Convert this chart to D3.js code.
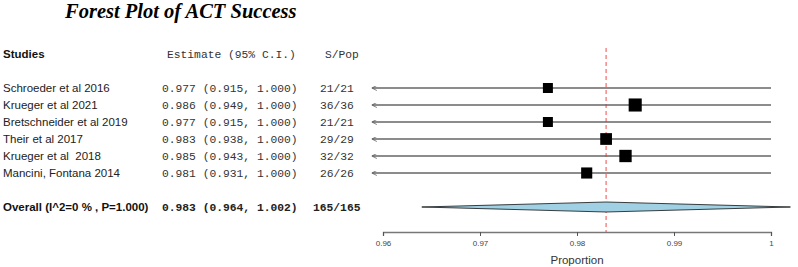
<!DOCTYPE html>
<html><head><meta charset="utf-8">
<script src="https://cdn.jsdelivr.net/npm/d3@7/dist/d3.min.js"></script>
<style>body{margin:0;background:#fff}svg{display:block}text{white-space:pre}</style>
</head><body>
<script>
const studies = ["Schroeder et al 2016","Krueger et al 2021","Bretschneider et al 2019","Their et al 2017","Krueger et al  2018","Mancini, Fontana 2014"];
const estimates = [0.977, 0.986, 0.977, 0.983, 0.985, 0.981];
const lowerCI = [0.915, 0.949, 0.915, 0.938, 0.943, 0.931];
const upperCI = [1.000, 1.000, 1.000, 1.000, 1.000, 1.000];
const successes = [21, 36, 21, 29, 32, 26];
const populations = [21, 36, 21, 29, 32, 26];
const overallLabel = "Overall (I^2=0 % , P=1.000)";
const overallEst = 0.983, overallLow = 0.964, overallHigh = 1.002;
const overallS = 165, overallPop = 165;
const xTicks = [0.96, 0.97, 0.98, 0.99, 1];
const xLimLow = 0.9589;

const W = 798, H = 267;
const svg = d3.select("body").append("svg").attr("width", W).attr("height", H);
const x = d3.scaleLinear().domain([0.96, 1]).range([383, 771]);
const y = d3.scaleLinear().domain([0, 1]).range([88, 105]);
const f3 = d3.format(".3f");
const sans = "'Liberation Sans', Arial, sans-serif";
const mono = "'Liberation Mono', 'Courier New', monospace";

svg.append("text").attr("x", 65).attr("y", 18)
  .attr("font-family", "'Liberation Serif', 'Times New Roman', serif")
  .attr("font-weight", "bold").attr("font-style", "italic").attr("font-size", 20.5)
  .attr("fill", "#000").text("Forest Plot of ACT Success");

// headers
svg.append("text").attr("x", 3).attr("y", 58).attr("font-family", sans).attr("font-weight", "bold")
  .attr("font-size", 11.5).attr("fill", "#111").text("Studies");
svg.append("text").attr("x", 167).attr("y", 58).attr("font-family", mono)
  .attr("font-size", 11.3).attr("fill", "#333").text("Estimate (95% C.I.)");
svg.append("text").attr("x", 325).attr("y", 58).attr("font-family", mono)
  .attr("font-size", 11.3).attr("fill", "#333").text("S/Pop");

const defs = svg.append("defs");
defs.append("marker").attr("id", "arr").attr("viewBox", "0 0 10 10").attr("refX", 1).attr("refY", 5)
  .attr("markerWidth", 9).attr("markerHeight", 5).attr("markerUnits", "userSpaceOnUse").attr("orient", "auto")
  .append("path").attr("d", "M10,0 L0,5 L10,10").attr("fill", "none").attr("stroke", "#555").attr("stroke-width", 1.5);

const rows = studies.map((s, i) => ({s, e: estimates[i], l: lowerCI[i], u: upperCI[i], k: successes[i], n: populations[i], i}));

// reference dashed line
svg.append("line").attr("x1", x(overallEst)).attr("x2", x(overallEst)).attr("y1", 48).attr("y2", 232)
  .attr("stroke", "#f26a6a").attr("stroke-width", 1.2).attr("stroke-dasharray", "4,3");

rows.forEach(d => {
  const yy = y(d.i);
  svg.append("text").attr("x", 3).attr("y", yy + 4).attr("font-family", sans).attr("font-size", 11.5)
    .attr("fill", "#222").attr("xml:space", "preserve").text(d.s);
  svg.append("text").attr("x", 162).attr("y", yy + 4).attr("font-family", mono).attr("font-size", 11.3)
    .attr("fill", "#333").text(`${f3(d.e)} (${f3(d.l)}, ${f3(d.u)})`);
  svg.append("text").attr("x", 320).attr("y", yy + 4).attr("font-family", mono).attr("font-size", 11.3)
    .attr("fill", "#333").text(`${d.k}/${d.n}`);
  const lo = Math.max(d.l, xLimLow);
  svg.append("line").attr("x1", x(lo)).attr("x2", x(d.u)).attr("y1", yy).attr("y2", yy)
    .attr("stroke", "#666").attr("stroke-width", 1.3)
    .attr("marker-start", d.l < xLimLow ? "url(#arr)" : null);
  const sz = 2.18 * Math.sqrt(d.n);
  svg.append("rect").attr("x", x(d.e) - sz / 2).attr("y", yy - sz / 2).attr("width", sz).attr("height", sz)
    .attr("fill", "#000");
});

// overall
const yo = 207;
svg.append("text").attr("x", 3).attr("y", yo + 4).attr("font-family", sans).attr("font-weight", "bold")
  .attr("font-size", 11.5).attr("fill", "#111").text(overallLabel);
svg.append("text").attr("x", 162).attr("y", yo + 4).attr("font-family", mono).attr("font-weight", "bold")
  .attr("font-size", 11.3).attr("fill", "#222").text(`${f3(overallEst)} (${f3(overallLow)}, ${f3(overallHigh)})`);
svg.append("text").attr("x", 313).attr("y", yo + 4).attr("font-family", mono).attr("font-weight", "bold")
  .attr("font-size", 11.3).attr("fill", "#222").text(`${overallS}/${overallPop}`);
svg.append("path")
  .attr("d", `M${x(overallLow)},${yo} L${x(overallEst)},${yo - 5} L${x(overallHigh)},${yo} L${x(overallEst)},${yo + 5} Z`)
  .attr("fill", "#9fd0e3").attr("stroke", "#111").attr("stroke-width", 0.8);

// axis
const axis = d3.axisBottom(x).tickValues(xTicks).tickSize(4).tickFormat(d => d === 1 ? "1" : d3.format(".2f")(d));
const ag = svg.append("g").attr("transform", "translate(0,232)").call(axis);
ag.select(".domain").attr("stroke", "#777").attr("stroke-width", 1.3);
ag.selectAll(".tick line").attr("stroke", "#555");
ag.selectAll(".tick text").attr("font-family", sans).attr("font-size", 8).attr("fill", "#444").attr("dy", "0.9em");
svg.append("text").attr("x", (x(0.96) + x(1)) / 2).attr("y", 264).attr("text-anchor", "middle")
  .attr("font-family", sans).attr("font-size", 11.5).attr("fill", "#333").text("Proportion");
</script>
</body></html>
